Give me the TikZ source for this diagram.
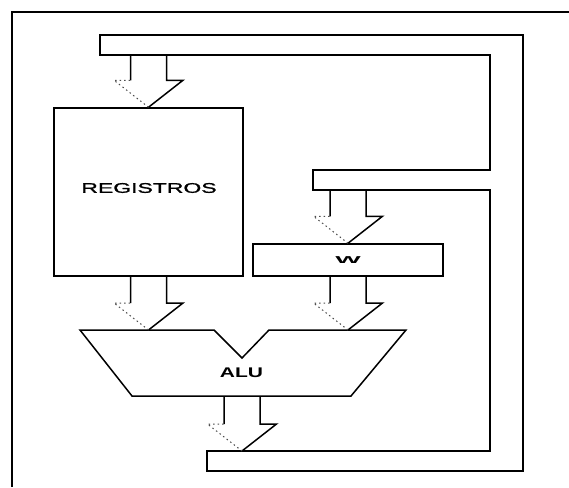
\documentclass[tikz,border=0pt]{standalone}
\usepackage{fontspec}
\setmainfont{Liberation Sans}
\newfontfamily\regfont[FakeStretch=1.64, FakeBold=1.2]{Liberation Sans}
\newfontfamily\alufont[FakeStretch=1.5]{Liberation Sans}
\newfontfamily\wfont[FakeStretch=2.7]{Liberation Sans}
\usetikzlibrary{calc, positioning}

\newcommand{\fatarrow}[2]{%
  \draw[busline] let \p1=(#1), \p2=(#2) in
    (\x2-18pt,\y2+27pt) -- (\x2-18pt,\y1)
    (\x2+18pt,\y1) -- (\x2+18pt,\y2+27pt) -- (\x2+34.5pt,\y2+27pt) -- (\p2);
  \draw[headdots] let \p2=(#2) in
    (\p2) -- (\x2-34.5pt,\y2+27pt) -- (\x2-18pt,\y2+27pt);
}

\begin{document}
\begin{tikzpicture}[
      x=1pt, y=-1pt,
      busline/.style={draw, line width=1.5pt, line join=miter},
      headdots/.style={line width=1pt, black!70, dash pattern=on 1.5pt off 3pt},
      block/.style={draw, line width=1.5pt, inner sep=0pt},
      regtext/.style={font=\regfont\fontsize{14}{14}\selectfont, inner sep=0pt},
      alutext/.style={font=\alufont\bfseries\fontsize{14}{14}\selectfont, inner sep=0pt},
      wtext/.style={font=\wfont\bfseries\fontsize{10}{10}\selectfont}
    ]
      \useasboundingbox (0,0) rectangle (569,487);
      \fill[white] (0,0) rectangle (569,487);
      \draw[line width=2pt] (12,487) -- (12,12) -- (569,12);

      \draw[busline] (100,35) -- (523,35) -- (523,471) -- (207,471) -- (207,451)
        -- (490,451) -- (490,190) -- (313,190) -- (313,170) -- (490,170)
        -- (490,55) -- (100,55) -- cycle;
      \coordinate (bustop) at (100,55);
      \coordinate (busmid) at (313,190);
      \coordinate (busbot) at (207,451);

      \node[block, minimum width=189pt, minimum height=168pt] (regs) at (148.5,192) {};
      \node[regtext] (regslabel) at (149,188) {REGISTROS};
      \node[block, minimum width=190pt, minimum height=32pt, wtext] (wreg) at (348,260) {W};

      \draw[busline] (80,330) -- (214,330) -- (242,358) -- (269,330) -- (406,330)
        -- (351,396) -- (132,396) -- cycle;
      \coordinate (alutop) at (0,330);
      \coordinate (alubot) at (242,396);
      \node[alutext] (alu) at (241.5,373) {ALU};

      \fatarrow{bustop}{regs.north}
      \fatarrow{regs.south}{regs.south |- alutop}
      \fatarrow{busmid}{wreg.north}
      \fatarrow{wreg.south}{wreg.south |- alutop}
      \fatarrow{alubot}{alubot |- busbot}
    \end{tikzpicture}
\end{document}
